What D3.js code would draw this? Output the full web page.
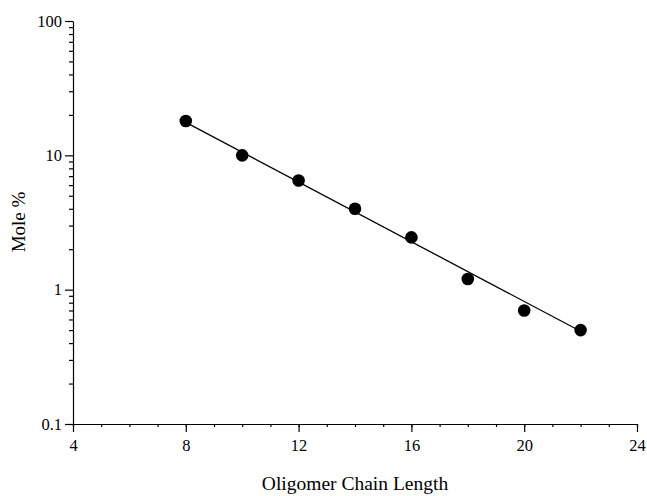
<!DOCTYPE html>
<html>
<head>
<meta charset="utf-8">
<script src="https://cdn.jsdelivr.net/npm/d3@7"></script>
<style>
  body { margin: 0; background: #fff; }
  text { font-family: "Liberation Serif", "DejaVu Serif", serif; fill: #000; }
</style>
</head>
<body>
<div id="container"></div>
<script>
// data
var chainLength = [8, 10, 12, 14, 16, 18, 20, 22];
var molePct = [18, 10, 6.5, 4.0, 2.45, 1.2, 0.7, 0.5];
// fitted line, end points
var fitX = [8, 22];
var fitY = [17.6, 0.49];

var xTicks = [4, 8, 12, 16, 20, 24];
var yTicks = [0.1, 1, 10, 100];

var width = 647, height = 496;
var margin = { top: 21, right: 10, bottom: 72, left: 73 };

var svg = d3.select("#container")
  .append("svg")
  .attr("width", width)
  .attr("height", height);

var x = d3.scaleLinear().domain([4, 24]).range([margin.left, 637]);
var y = d3.scaleLog().domain([0.1, 100]).range([424, margin.top]);

// x axis: major + minor ticks
var xAxis = svg.append("g").attr("transform", "translate(0,424)");
xAxis.append("g")
  .call(d3.axisBottom(x).tickValues(d3.range(4, 25, 1)).tickSize(3).tickFormat(""))
  .call(g => g.select(".domain").remove());
xAxis.append("g")
  .call(d3.axisBottom(x).tickValues(xTicks).tickSize(8).tickSizeOuter(0).tickPadding(7).tickFormat(d3.format("d")))
  .call(g => g.selectAll("text").style("font-size", "16.5px"));

// y axis
var minorY = [];
[0.1, 1, 10].forEach(function(d) {
  for (var k = 2; k <= 9; k++) minorY.push(d * k);
});
var yAxis = svg.append("g").attr("transform", "translate(73,0)");
yAxis.append("g")
  .call(d3.axisLeft(y).tickValues(minorY).tickSize(4).tickFormat(""))
  .call(g => g.select(".domain").remove());
yAxis.append("g")
  .call(d3.axisLeft(y).tickValues(yTicks).tickSize(8).tickSizeOuter(0).tickPadding(3).tickFormat(d => d < 1 ? "0.1" : String(d)))
  .call(g => g.selectAll("text").style("font-size", "16.5px"));

svg.selectAll(".domain, .tick line").attr("stroke", "#000").attr("stroke-width", 1.2);

// fit line
var line = d3.line().x(d => x(d[0])).y(d => y(d[1]));
svg.append("path")
  .datum(d3.zip(fitX, fitY))
  .attr("d", line)
  .attr("fill", "none")
  .attr("stroke", "#000")
  .attr("stroke-width", 1.3);

// points
svg.selectAll("circle.pt")
  .data(d3.zip(chainLength, molePct))
  .enter()
  .append("circle")
  .attr("class", "pt")
  .attr("cx", d => x(d[0]))
  .attr("cy", d => y(d[1]))
  .attr("r", 6.3)
  .attr("fill", "#000");

// axis titles
svg.append("text")
  .attr("x", (margin.left + 637) / 2)
  .attr("y", 490)
  .attr("text-anchor", "middle")
  .style("font-size", "19.5px")
  .text("Oligomer Chain Length");

svg.append("text")
  .attr("transform", "translate(25,222) rotate(-90)")
  .attr("text-anchor", "middle")
  .style("font-size", "19px")
  .text("Mole %");
</script>
</body>
</html>
